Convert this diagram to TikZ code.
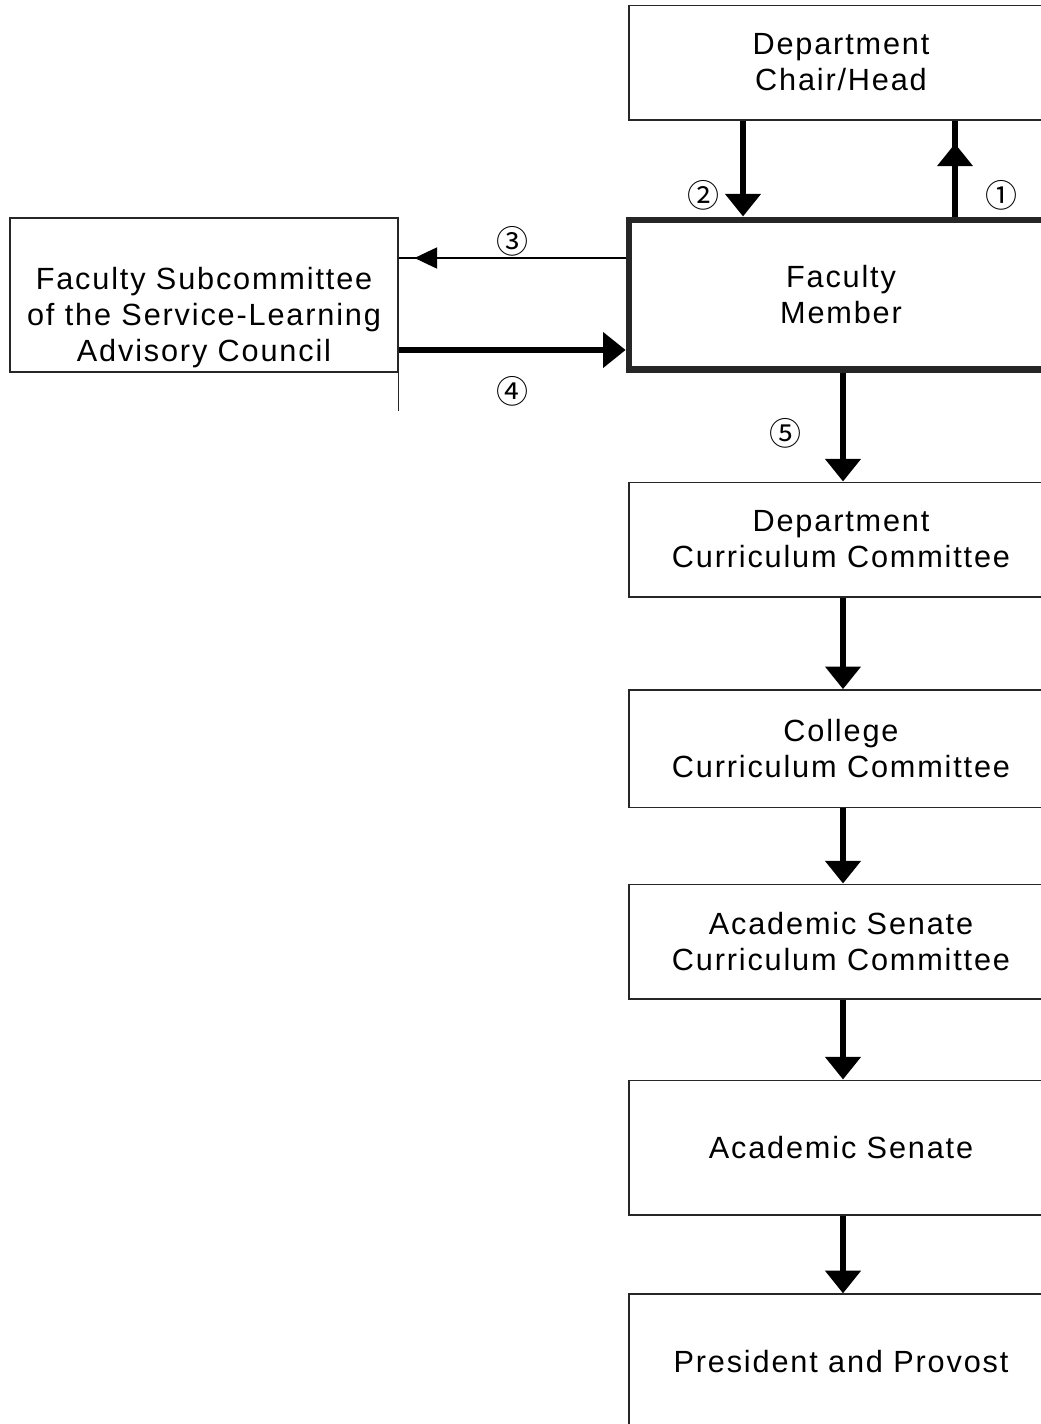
\documentclass[tikz,border=0pt]{standalone}
\usepackage{fontspec}
\setmainfont{Liberation Sans}[LetterSpace=6]
\newfontfamily\numfont{Noto Sans CJK JP}
\usetikzlibrary{arrows.meta,decorations.markings}

\tikzset{
  box/.style={draw=black!85,line width=1pt,fill=white,align=center,
    minimum width=318pt,minimum height=86pt,inner sep=0pt,
    font=\fontsize{23}{27}\selectfont},
  flow/.style={line width=5pt,-{Triangle[length=17pt,width=26pt]}},
  num/.style={font=\numfont\fontsize{24}{24}\selectfont,inner sep=0pt},
  midtip/.style args={#1:#2}{postaction={decorate},
    decoration={markings,mark=at position #1 with {\arrow{Triangle[#2]}}}}
}

\begin{document}
\begin{tikzpicture}[x=0.75pt,y=-0.75pt]
        \useasboundingbox (0,0) rectangle (1041,1424);
        \clip (0,0) rectangle (1041,1424);
        \node[box] (chair) at (841,62.5) {Department\\Chair/Head};
        \node[box,line width=5pt,minimum height=112pt] (member) at (841,294.5) {Faculty\\Member};
        \node[box,minimum width=291pt,minimum height=115.5pt,
          label={[align=center,font=\fontsize{23}{27}\selectfont,yshift=-17pt]center:{Faculty Subcommittee\\of the Service-Learning\\Advisory Council}}] (sub) at (204,295) {};
        \node[box] (dcc) at (841,539.5) {Department\\Curriculum Committee};
        \node[box,minimum height=88pt] (ccc) at (841,748.5) {College\\Curriculum Committee};
        \node[box] (ascc) at (841,941.5) {Academic Senate\\Curriculum Committee};
        \node[box,minimum height=101pt] (senate) at (841,1147.5) {Academic Senate};
        \node[box,minimum height=102pt] (pres) at (841,1362) {President and Provost};
        \draw[line width=1pt,black!85] (sub.south east) -- ++(0,38);
        \coordinate (down) at (743,0);
        \coordinate (up) at (955,0);
        \coordinate (main) at (843,0);
        \coordinate (back) at (0,258);
        \coordinate (ahead) at (0,350);
        \draw[flow] (chair.south -| down) -- (member.north -| down) node[num,pos=0.78,left=15pt]{②};
        \draw[line width=5pt,midtip={0.76:length=17pt,width=26pt}] (member.north -| up) -- (chair.south -| up) node[num,pos=0.22,right=20pt]{①};
        \draw[line width=0.8pt,midtip={0.93:length=17pt,width=16pt}] (member.west |- back) -- (sub.east |- back) node[num,midway,above=1pt]{③};
        \draw[flow] (sub.east |- ahead) -- (member.west |- ahead) node[num,midway,below=17pt]{④};
        \draw[flow] (member.south -| main) -- (dcc.north -| main) node[num,pos=0.56,left=29pt]{⑤};
        \foreach \a/\b in {dcc/ccc,ccc/ascc,ascc/senate,senate/pres}
          \draw[flow] (\a.south -| main) -- (\b.north -| main);
      \end{tikzpicture}
\end{document}
